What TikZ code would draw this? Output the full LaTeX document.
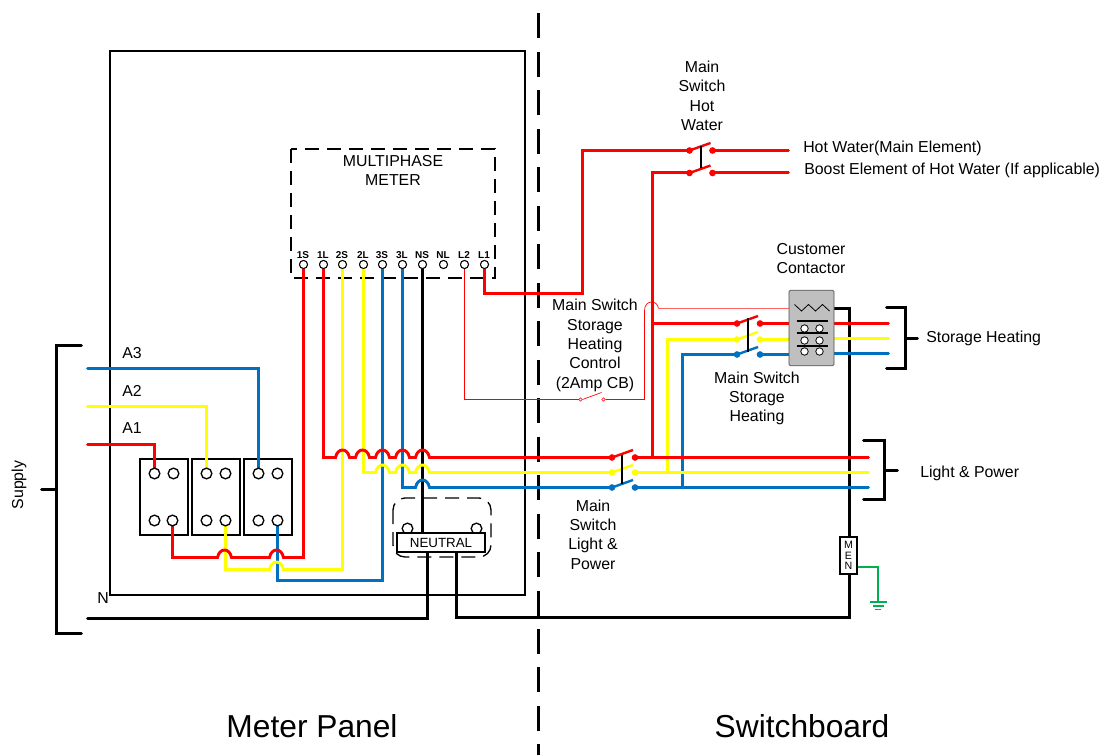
\documentclass[tikz,border=0pt]{standalone}
\usepackage{fontspec}
\setmainfont{Liberation Sans}
\usetikzlibrary{calc}
\definecolor{wred}{HTML}{FF0000}
\definecolor{wyel}{HTML}{FFFF00}
\definecolor{wblu}{HTML}{0070C0}
\definecolor{wgrn}{HTML}{00B050}
\definecolor{cgray}{HTML}{BFBFBF}
\newcommand\hopx[2]{-- (#1-7,#2) .. controls (#1-5,#2-10) and (#1+5,#2-10) .. (#1+7,#2)}
\tikzset{
  wire/.style={line width=2.2pt,line join=miter,line cap=round},
  redw/.style={wire,draw=wred},
  yelw/.style={wire,draw=wyel},
  bluw/.style={wire,draw=wblu},
  blkw/.style={wire,draw=black},
  frame/.style={draw=black,line width=1pt},
  cbox/.style={frame,minimum width=36pt,minimum height=57pt,inner sep=0pt},
  term/.style={circle,draw=black,fill=white,line width=1pt,minimum size=8pt,inner sep=0pt},
  mterm/.style={circle,draw=black,fill=white,line width=0.7pt,minimum size=6pt,inner sep=0pt},
  cterm/.style={circle,draw=black,fill=white,line width=0.6pt,minimum size=5.6pt,inner sep=0pt},
  lbl/.style={inner sep=0pt,font=\fontsize{11.9}{14.5}\selectfont,align=center},
  lbll/.style={lbl,anchor=west},
  mlbl/.style={inner sep=0pt,font=\fontsize{7.5}{8}\selectfont\bfseries},
  big/.style={inner sep=0pt,font=\fontsize{23.8}{26}\selectfont},
  sdot/.style={circle,inner sep=0pt,minimum size=5pt,draw=none},
  brk/.style={draw=black,line width=2.2pt,line cap=round},
  gline/.style={wgrn,line width=1pt},
}
\begin{document}
\begin{tikzpicture}[x=0.75pt,y=-0.75pt]
\useasboundingbox (0,0) rectangle (1102,755);
\begin{scope}[shift={(0.5,0.5)}]
% frames
\draw[frame] (109.5,50.5) rectangle (524.5,594.5);
\draw[frame,dash pattern=on 10.5pt off 6pt] (290.5,148.5) rectangle (494.5,277.5);
\draw[black,line width=2.2pt,dash pattern=on 18.75pt off 10.1pt] (538,13) -- (538,755);
% nodes
\foreach \n/\x in {1S/303,1L/323,2S/342,2L/363,3S/382,3L/402,NS/422,NL/443,L2/464,L1/484}{
  \node[mterm] (t\n) at (\x,264) {};
  \node[mlbl] (l\n) at (\x-0.5,255) {\n};
}
\node[cbox] (b1) at (163.5,496.5) {};
\node[cbox] (b2) at (215.5,496.5) {};
\node[cbox] (b3) at (267.5,496.5) {};
\coordinate (MENtop) at (849,537);
% wires: black
\draw[blkw] (tNS.south) -- (422,533);
\draw[blkw] (87,618) -- (427,618) -- (427,552);
\draw[blkw] (456,552) -- (456,617) -- (849,617) -- (MENtop);
\draw[blkw] (834,308) -- (849,308) -- (MENtop);
% blue
\draw[bluw] (87,368) -| (258,473);
\draw[bluw] (277,520) -- (277,580) -- (382,580) -- (t3S.south);
\draw[bluw] (t3L.south) -- (402,487) \hopx{422}{487} -- (612,487);
\draw[bluw] (634,487) -- (868,487);
\draw[bluw] (682,487) -- (682,354) -- (736,354);
\draw[bluw] (760,354) -- (790,354);
\draw[bluw] (833,353) -- (888,353);
% yellow
\draw[yelw] (87,406) -| (206,473);
\draw[yelw] (225,520) -- (225,569) \hopx{276}{569} -- (342,569) -- (t2S.south);
\draw[yelw] (t2L.south) -- (363,472) \hopx{382}{472} \hopx{402}{472} \hopx{422}{472} -- (612,472);
\draw[yelw] (634,472) -- (868,472);
\draw[yelw] (667,472) -- (667,339) -- (736,339);
\draw[yelw] (760,339) -- (790,339);
\draw[yelw] (833,338) -- (888,338);
% red
\draw[redw] (87,444) -| (154,473);
\draw[redw] (172,520) -- (172,557) \hopx{224}{557} \hopx{276}{557} -- (303,557) -- (t1S.south);
\draw[redw] (t1L.south) -- (323,457) \hopx{342}{457} \hopx{362}{457} \hopx{382}{457} \hopx{402}{457} \hopx{422}{457} -- (612,457);
\draw[redw] (634,457) -- (868,457);
\draw[redw] (652,457) -- (652,172) -- (689,172);
\draw[redw] (tL1.south) -- (484,293) -- (582,293) -- (582,150) -- (689,150);
\draw[redw] (712,150) -- (788,150);
\draw[redw] (712,172) -- (788,172);
\draw[redw] (652,323) -- (736,323);
\draw[redw] (760,323) -- (790,323);
\draw[redw] (833,323) -- (888,323);
% thin control wiring
\node[circle,draw=wred,fill=white,line width=0.4pt,minimum size=2.6pt,inner sep=0pt] (cb1) at (580,399) {};
\node[circle,draw=wred,fill=white,line width=0.4pt,minimum size=2.6pt,inner sep=0pt] (cb2) at (603,399) {};
\draw[wred,line width=0.5pt] (tL2.south) -- (464,399) -- (cb1.west);
\draw[wred,line width=0.5pt] (cb1.east) -- (601,392);
\draw[wred,line width=0.5pt] (cb2.east) -- (644,399) -- (644,310) .. controls (644,299) and (657,299) .. (658,308);
\draw[wred!60,line width=0.7pt] (658,308) -- (789,308);
% re-draw terminal nodes on top of wires
\foreach \n/\x in {1S/303,1L/323,2S/342,2L/363,3S/382,3L/402,NS/422,NL/443,L2/464,L1/484}{
  \node[mterm] at (\x,264) {};
}
% breaker terminals
\foreach \n/\x/\y in {a/154/473,b/173/473,c/154/520,d/172/520,e/206/473,f/225/473,g/206/520,h/225/520,i/258/473,j/277/473,k/258/520,l/277/520}{
  \node[term] (bt\n) at (\x,\y) {};
}
% switches
\newcommand\swtch[4]{%
  \node[sdot,fill=#4] (#1a) at (#2,#3) {};
  \node[sdot,fill=#4] (#1b) at (#2+23,#3) {};
  \draw[#4,line width=1.8pt] (#1a.center) -- (#2+21,#3-7.5);
}
\swtch{hw}{689}{150}{wred}
\swtch{bo}{689}{172.5}{wred}
\swtch{sr}{736.5}{323}{wred}
\swtch{sy}{736.5}{339}{wyel}
\swtch{sb}{736.5}{354}{wblu}
\swtch{lr}{611.5}{457}{wred}
\swtch{ly}{611.5}{472}{wyel}
\swtch{lb}{611.5}{487}{wblu}
\draw[black,line width=1pt] (700.5,146) -- (700.5,168);
\draw[black,line width=1pt] (747.5,318) -- (747.5,351);
\draw[black,line width=1pt] (621.5,454) -- (621.5,483);
% contactor
\node[draw=black!70,fill=cgray,line width=0.6pt,rounded corners=1pt,minimum width=33.75pt,minimum height=56.5pt,inner sep=0pt] (cont) at (811,327.5) {};
\draw[black,line width=0.6pt] (794,304) -- (801,310.5) -- (808,304) -- (815,310.5) -- (822,304) -- (829,310.5);
\foreach \y in {320.5,332.5,345.5}{\draw[black,line width=1pt] (796,\y) -- (827,\y);}
\foreach \x/\y in {804/328,819/328,804/340,819/340,804/351,819/351}{\node[cterm] at (\x,\y) {};}
% MEN
\node[draw=black,fill=white,line width=1pt,minimum width=12.75pt,minimum height=27.75pt,inner sep=0pt,align=center,font=\fontsize{8}{8}\selectfont] (men) at (848,555) {M\\E\\N};
\coordinate (gnd) at (877.5,601.5);
\draw[gline] (men.east |- 0,566.5) -- (877.5,566.5) -- (gnd);
\draw[gline] (869.5,601.5) -- (886.5,601.5);
\draw[gline] (872.5,605.5) -- (883.5,605.5);
\draw[gline] (874.5,609) -- (880.5,609);
% neutral
\node[term] (nc1) at (407,528) {};
\node[term] (nc2) at (476,528) {};
\node[frame,fill=white,minimum width=66pt,minimum height=14.25pt,inner sep=0pt,font=\fontsize{10}{11}\selectfont] (neu) at (440.5,542) {NEUTRAL};
\draw[black,line width=1pt,dash pattern=on 10.5pt off 6pt,rounded corners=9pt] (392.5,497.5) rectangle (490.5,556.5);
% brackets
\draw[brk] (81,345) -- (56,345) -- (56,633) -- (81,633);
\coordinate (sup) at (41,489);
\draw[brk] (sup) -- (56,489);
\draw[brk] (886,307) -- (905,307) -- (905,368) -- (886,368);
\coordinate (sh) at (917,338);
\draw[brk] (905,338) -- (sh);
\draw[brk] (863,440) -- (884,440) -- (884,499) -- (863,499);
\coordinate (lp) at (897,470);
\draw[brk] (884,470) -- (lp);
\end{scope}
% texts
\node[lbl,rotate=90] (tsup) at (19,485) {Supply};
\node[lbl] (ta3) at (132,353) {A3};
\node[lbl] (ta2) at (132,390.5) {A2};
\node[lbl] (ta1) at (132,428) {A1};
\node[lbl] (tn) at (103,598.5) {N};
\node[lbl] (tmm) at (393,170.5) {MULTIPHASE\\METER};
\node[lbl] (ths) at (702,96) {Main\\Switch\\Hot\\Water};
\node[lbll] (thw) at (803,148.5) {Hot Water(Main Element)};
\node[lbll] (tbo) at (804,170.5) {Boost Element of Hot Water (If applicable)};
\node[lbl] (tcc) at (811,258.5) {Customer\\Contactor};
\node[lbl] (tcb) at (595,345.5) {Main Switch\\Storage\\Heating\\Control\\(2Amp CB)};
\node[lbl] (tsw) at (757,398.5) {Main Switch\\Storage\\Heating};
\node[lbl] (tlp) at (593,534.5) {Main\\Switch\\Light \&\\Power};
\node[lbll] (tsh) at (926,338) {Storage Heating};
\node[lbll] (tl) at (920,473) {Light \& Power};
\node[big] (tmp) at (312,726) {Meter Panel};
\node[big] (tsb) at (802,726) {Switchboard};
\end{tikzpicture}
\end{document}
